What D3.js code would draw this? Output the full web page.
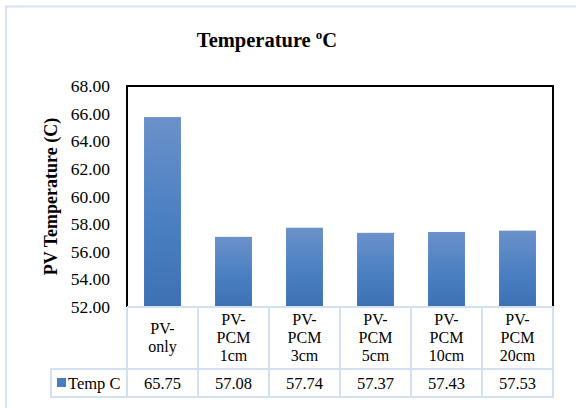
<!DOCTYPE html>
<html>
<head>
<meta charset="utf-8">
<script src="https://cdn.jsdelivr.net/npm/d3@7"></script>
<style>
	body { margin: 0; background: #fff; }
	svg { display: block; }
</style>
</head>
<body>
<svg id="chart"></svg>
<script>
// values
const categories = ['PV-only', 'PV-PCM 1cm', 'PV-PCM 3cm', 'PV-PCM 5cm', 'PV-PCM 10cm', 'PV-PCM 20cm'];
const categoryLines = [['PV-', 'only'], ['PV-', 'PCM', '1cm'], ['PV-', 'PCM', '3cm'], ['PV-', 'PCM', '5cm'], ['PV-', 'PCM', '10cm'], ['PV-', 'PCM', '20cm']];
const tempValues = [65.75, 57.08, 57.74, 57.37, 57.43, 57.53];
const yTicks = [52, 54, 56, 58, 60, 62, 64, 66, 68];
const seriesName = 'Temp C';

const width = 576, height = 408;
const plot = { left: 127, right: 553, top: 86, bottom: 307 };
const headRow = 62, dataRow = 28, legendLeft = 51;
const tableLine = '#d3e0f1';
const serif = '"Liberation Serif", "Times New Roman", serif';

const svg = d3.select('#chart').attr('width', width).attr('height', height);

// outer chart frame, only top/left visible in the picture
svg.append('rect')
	.attr('x', 6).attr('y', 6.5)
	.attr('width', width + 20).attr('height', height + 20)
	.attr('fill', 'none')
	.attr('stroke', '#d6e3f4')
	.attr('stroke-width', 2);

const defs = svg.append('defs');
const grad = defs.append('linearGradient')
	.attr('id', 'barGrad')
	.attr('x1', 0).attr('y1', 0).attr('x2', 0).attr('y2', 1);
grad.append('stop').attr('offset', '0%').attr('stop-color', '#6b91c9');
grad.append('stop').attr('offset', '55%').attr('stop-color', '#4a7fc2');
grad.append('stop').attr('offset', '100%').attr('stop-color', '#3d71b4');

const x = d3.scaleBand()
	.domain(categories)
	.range([plot.left, plot.right])
	.paddingInner(0.48)
	.paddingOuter(0.24);

const y = d3.scaleLinear()
	.domain([d3.min(yTicks), d3.max(yTicks)])
	.range([plot.bottom, plot.top]);

// title
const title = svg.append('text')
	.attr('x', 267).attr('y', 47)
	.attr('text-anchor', 'middle')
	.attr('font-family', serif)
	.attr('font-size', 20.5)
	.attr('font-weight', 'bold')
	.attr('fill', '#000');
title.append('tspan').text('Temperature ');
title.append('tspan').attr('font-size', 13).attr('dy', -8).text('o');
title.append('tspan').attr('dy', 8).text('C');

// bars
svg.append('g')
	.selectAll('rect')
	.data(tempValues)
	.enter()
	.append('rect')
	.attr('x', (d, i) => x(categories[i]))
	.attr('y', d => y(d))
	.attr('width', x.bandwidth())
	.attr('height', d => y(y.domain()[0]) - y(d))
	.attr('fill', 'url(#barGrad)');

// plot frame (black on top, left, right)
svg.append('path')
	.attr('d', `M${plot.left},${plot.bottom}V${plot.top}H${plot.right}V${plot.bottom}`)
	.attr('fill', 'none')
	.attr('stroke', '#000')
	.attr('stroke-width', 2);

// y axis labels
const yAxis = d3.axisLeft(y)
	.tickValues(yTicks)
	.tickSize(0)
	.tickPadding(17)
	.tickFormat(d3.format('.2f'));
const yAxisGroup = svg.append('g')
	.attr('transform', `translate(${plot.left},0)`)
	.attr('font-family', serif)
	.attr('font-size', 17.5)
	.call(yAxis);
yAxisGroup.attr('font-family', serif).attr('font-size', 17.5);
yAxisGroup.select('.domain').remove();
yAxisGroup.selectAll('.tick text')
	.attr('font-family', serif)
	.attr('font-size', 17.5)
	.attr('fill', '#000');

svg.append('text')
	.attr('transform', `translate(57,${(plot.top + plot.bottom) / 2}) rotate(-90)`)
	.attr('text-anchor', 'middle')
	.attr('font-family', serif)
	.attr('font-size', 18)
	.attr('font-weight', 'bold')
	.text('PV Temperature (C)');

// data table
const table = svg.append('g').attr('font-family', serif);
const step = x.step();
const colEdges = categories.map(c => x(c) - x.paddingInner() * step / 2);
const rowTop = plot.bottom, rowMid = plot.bottom + headRow, rowBot = rowMid + dataRow;

const lineStyle = sel => sel.attr('stroke', tableLine).attr('stroke-width', 2).attr('fill', 'none');
table.append('path')
	.attr('d', `M${plot.left},${rowTop}H${plot.right}V${rowBot}H${legendLeft}V${rowMid}H${plot.right}`)
	.call(lineStyle);
table.selectAll('line.col')
	.data(colEdges)
	.enter()
	.append('line')
	.attr('class', 'col')
	.attr('x1', d => d).attr('x2', d => d)
	.attr('y1', rowTop).attr('y2', rowBot)
	.call(lineStyle);

// header labels
const heads = table.selectAll('text.head')
	.data(categoryLines)
	.enter()
	.append('text')
	.attr('class', 'head')
	.attr('text-anchor', 'middle')
	.attr('font-family', serif)
	.attr('font-size', 16)
	.attr('fill', '#000');
heads.each(function(lines, i) {
	const cx = x(categories[i]) + x.bandwidth() / 2;
	const lineH = 18;
	const firstY = (rowTop + rowMid) / 2 - (lines.length - 1) * lineH / 2 + 5;
	d3.select(this).selectAll('tspan')
		.data(lines)
		.enter()
		.append('tspan')
		.attr('x', cx)
		.attr('y', (d, j) => firstY + j * lineH)
		.text(d => d);
});

// values row
table.selectAll('text.val')
	.data(tempValues)
	.enter()
	.append('text')
	.attr('class', 'val')
	.attr('x', (d, i) => x(categories[i]) + x.bandwidth() / 2)
	.attr('y', rowMid + dataRow / 2 + 5.5)
	.attr('text-anchor', 'middle')
	.attr('font-family', serif)
	.attr('font-size', 16.5)
	.attr('fill', '#000')
	.text(d => d.toFixed(2));

// legend key
table.append('rect')
	.attr('x', 57).attr('y', rowMid + 9)
	.attr('width', 9).attr('height', 9)
	.attr('fill', '#4a7cc0');
table.append('text')
	.attr('x', 68).attr('y', rowMid + dataRow / 2 + 5.5)
	.attr('font-family', serif)
	.attr('font-size', 16.5)
	.attr('fill', '#000')
	.text(seriesName);
</script>
</body>
</html>
